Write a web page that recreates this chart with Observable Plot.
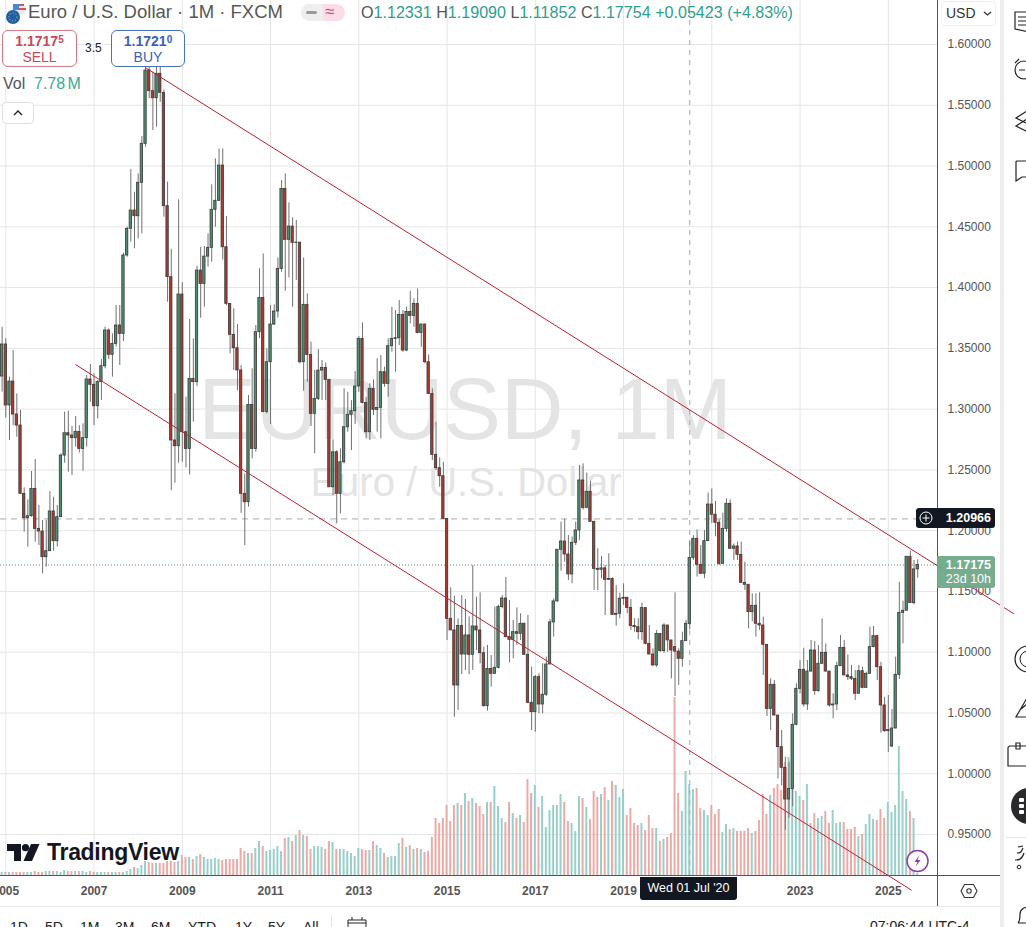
<!DOCTYPE html>
<html><head><meta charset="utf-8">
<script src="https://cdn.jsdelivr.net/npm/d3@7"></script>
<script src="https://cdn.jsdelivr.net/npm/@observablehq/plot@0.6"></script>
<style>
html,body{margin:0;padding:0;background:#fff;width:1026px;height:927px;overflow:hidden;font-family:"Liberation Sans",Arial,sans-serif}
#chart{position:absolute;left:0;top:0}
.o{position:absolute;white-space:nowrap;line-height:1}
.box{position:absolute;box-sizing:border-box;background:#fff;border-radius:6px;text-align:center}
.box b{display:block;font-size:14px;margin-top:2px;line-height:16px}
.box b sup{font-size:10px;vertical-align:3px;line-height:0}
.box span{display:block;font-size:14px;line-height:16px}
svg.i{position:absolute;overflow:visible}
</style></head><body>
<div id="chart"></div>
<script>
// Monthly EUR/USD candles, Dec 2004 to Sep 2025 (index -1 = Dec 2004, 0 = Jan 2005)
const closes = [1.3532,
1.3030,1.3227,1.2956,1.2865,1.2303,1.2103,1.2119,1.2344,1.2015,1.1993,1.1782,1.1831,
1.2158,1.1913,1.2111,1.2618,1.2802,1.2783,1.2761,1.2813,1.2673,1.2761,1.3244,1.3200,
1.3024,1.3222,1.3353,1.3647,1.3447,1.3537,1.3688,1.3619,1.4264,1.4483,1.4634,1.4587,
1.4862,1.5183,1.5786,1.5616,1.5558,1.5759,1.5602,1.4670,1.4086,1.2742,1.2695,1.3943,
1.2810,1.2673,1.3249,1.3222,1.4140,1.4030,1.4255,1.4327,1.4640,1.4714,1.5004,1.4332,
1.3866,1.3611,1.3501,1.3318,1.2303,1.2234,1.3035,1.2673,1.3633,1.3915,1.2977,1.3386,
1.3696,1.3803,1.4154,1.4812,1.4393,1.4502,1.4368,1.4370,1.3386,1.3858,1.3446,1.2961,
1.3084,1.3317,1.3339,1.3241,1.2357,1.2645,1.2303,1.2563,1.2851,1.2953,1.2983,1.3186,
1.3578,1.3051,1.2810,1.3167,1.2994,1.3010,1.3304,1.3208,1.3518,1.3578,1.3583,1.3775,
1.3482,1.3800,1.3766,1.3866,1.3627,1.3696,1.3386,1.3125,1.2623,1.2514,1.2448,1.2097,
1.1275,1.1179,1.0726,1.1215,1.0981,1.1138,1.0979,1.1212,1.1179,1.0992,1.0556,1.0863,
1.0822,1.0872,1.1371,1.1442,1.1124,1.1102,1.1165,1.1151,1.1234,1.0979,1.0584,1.0507,
1.0795,1.0570,1.0650,1.0899,1.1245,1.1418,1.1843,1.1911,1.1804,1.1640,1.1900,1.2002,
1.2413,1.2188,1.2320,1.2073,1.1686,1.1678,1.1690,1.1596,1.1603,1.1308,1.1316,1.1440,
1.1448,1.1365,1.1215,1.1206,1.1165,1.1363,1.1069,1.0981,1.0891,1.1151,1.1009,1.1220,
1.1097,1.1014,1.1005,1.0946,1.1091,1.1234,1.17754,1.1933,1.1719,1.1645,1.1914,1.2215,
1.2131,1.2065,1.1727,1.2015,1.2221,1.1851,1.1870,1.1801,1.1571,1.1555,1.1330,1.1382,
1.1234,1.1220,1.1061,1.0534,1.0732,1.0479,1.0219,1.0049,0.9788,0.9875,1.0403,1.0699,
1.0855,1.0570,1.0841,1.1014,1.0680,1.0905,1.0995,1.0841,1.0562,1.0570,1.0885,1.1036,
1.0809,1.0795,1.0781,1.0658,1.0844,1.0707,1.0822,1.1042,1.1132,1.0877,1.0562,1.0350,
1.0360,1.0372,1.0814,1.1324,1.1341,1.1785,1.1404,1.1681,1.17175];
const highs = [1.3674,
1.3578,1.3263,1.3482,1.3126,1.2989,1.2352,1.2254,1.2487,1.2585,1.2207,1.2084,1.2084,
1.2322,1.2275,1.2207,1.2632,1.2975,1.2983,1.2857,1.2939,1.2865,1.2879,1.3277,1.3367,
1.3290,1.3236,1.3408,1.3674,1.3660,1.3620,1.3853,1.3853,1.4283,1.4497,1.4971,1.4785,
1.4936,1.5243,1.5905,1.6018,1.5772,1.5815,1.6038,1.5625,1.4867,1.4315,1.3126,1.4722,
1.4040,1.3098,1.3737,1.3578,1.4176,1.4332,1.4338,1.4442,1.4845,1.5059,1.5141,1.5141,
1.4585,1.3866,1.3825,1.3696,1.3358,1.2467,1.3112,1.3331,1.3688,1.4154,1.4277,1.3496,
1.3852,1.3858,1.4244,1.4881,1.4936,1.4697,1.4574,1.4552,1.4368,1.4244,1.3948,1.3551,
1.3317,1.3490,1.3400,1.3380,1.3241,1.2747,1.2659,1.2673,1.3167,1.3139,1.3070,1.3309,
1.3597,1.3710,1.3098,1.3208,1.3241,1.3413,1.3441,1.3345,1.3578,1.3838,1.3811,1.3893,
1.3811,1.3838,1.3970,1.3907,1.3989,1.3700,1.3700,1.3446,1.3167,1.2892,1.2599,1.2563,
1.2098,1.1530,1.1461,1.1275,1.1467,1.1434,1.1289,1.1714,1.1453,1.1489,1.1042,1.1056,
1.0973,1.1371,1.1385,1.1467,1.1615,1.1426,1.1261,1.1365,1.1316,1.1239,1.1302,1.0877,
1.0809,1.0822,1.0905,1.0960,1.1269,1.1439,1.1843,1.2070,1.2092,1.1961,1.1947,1.2070,
1.2537,1.2550,1.2473,1.2408,1.2073,1.1851,1.1788,1.1714,1.1810,1.1612,1.1549,1.1486,
1.1563,1.1448,1.1434,1.1275,1.1275,1.1404,1.1365,1.1220,1.1028,1.1179,1.1151,1.1234,
1.1215,1.1097,1.1489,1.1028,1.1165,1.1261,1.19090,1.1960,1.2007,1.1878,1.2002,1.2309,
1.2344,1.2240,1.2089,1.2144,1.2262,1.2254,1.1890,1.1906,1.1906,1.1741,1.1555,1.1480,
1.1480,1.1489,1.1289,1.1061,1.0781,1.0767,1.0479,1.0356,1.0137,1.0094,1.0493,1.0740,
1.0932,1.1033,1.0932,1.1097,1.1088,1.1055,1.1275,1.1069,1.0841,1.0658,1.0918,1.1138,
1.1097,1.0978,1.0891,1.0850,1.0891,1.0877,1.0836,1.1206,1.1212,1.1138,1.0917,1.0630,
1.0644,1.0529,1.0959,1.1576,1.1420,1.1788,1.1832,1.1755,1.1760];
const lows = [1.3140,
1.2926,1.2742,1.2865,1.2769,1.2303,1.1988,1.1865,1.2111,1.1905,1.1878,1.1645,1.1700,
1.1837,1.1831,1.1864,1.2111,1.2555,1.2481,1.2454,1.2687,1.2638,1.2489,1.2687,1.3057,
1.2865,1.2920,1.3071,1.3331,1.3408,1.3263,1.3510,1.3359,1.3556,1.4250,1.4374,1.4319,
1.4401,1.4442,1.5155,1.5555,1.5292,1.5320,1.5525,1.4579,1.3880,1.2330,1.2391,1.2555,
1.2563,1.2517,1.2459,1.2893,1.3187,1.3748,1.3839,1.4168,1.4209,1.4497,1.4711,1.4228,
1.3850,1.3455,1.3318,1.3150,1.2143,1.1877,1.2193,1.2591,1.2645,1.3580,1.2969,1.2961,
1.2873,1.3688,1.3748,1.4126,1.3970,1.4080,1.3838,1.4058,1.3372,1.3147,1.3221,1.2857,
1.2632,1.3071,1.3071,1.3071,1.2357,1.2289,1.2056,1.2138,1.2549,1.2810,1.2659,1.2873,
1.3139,1.3043,1.2755,1.2741,1.2947,1.2810,1.2755,1.3180,1.3098,1.3468,1.3304,1.3523,
1.3468,1.3474,1.3701,1.3674,1.3619,1.3509,1.3372,1.3125,1.2577,1.2495,1.2357,1.2097,
1.1097,1.1179,1.0466,1.0521,1.0817,1.0850,1.0814,1.0850,1.1014,1.0905,1.0548,1.0515,
1.0713,1.0822,1.0863,1.1357,1.1119,1.0913,1.0946,1.1056,1.1097,1.0979,1.0576,1.0356,
1.0342,1.0493,1.0493,1.0636,1.0905,1.1124,1.1412,1.1667,1.1741,1.1590,1.1563,1.1878,
1.1919,1.2170,1.2180,1.2070,1.1508,1.1508,1.1604,1.1302,1.1590,1.1302,1.1215,1.1275,
1.1385,1.1316,1.1179,1.1165,1.1102,1.1097,1.1061,1.0981,1.0883,1.0877,1.1000,1.0991,
1.0999,1.0781,1.0636,1.0727,1.0877,1.1102,1.11852,1.1755,1.1618,1.1645,1.1604,1.1914,
1.2060,1.1950,1.1714,1.1727,1.1988,1.1851,1.1755,1.1755,1.1571,1.1508,1.1192,1.1250,
1.1124,1.1179,1.0809,1.0471,1.0356,1.0479,0.9958,0.9900,0.9535,0.9635,0.9730,1.0395,
1.0658,1.0548,1.0521,1.0836,1.0644,1.0671,1.0904,1.0836,1.0548,1.0452,1.0520,1.0885,
1.0809,1.0767,1.0767,1.0603,1.0658,1.0699,1.0713,1.0822,1.1036,1.0767,1.0334,1.0342,
1.0175,1.0216,1.0392,1.0776,1.1069,1.1343,1.1404,1.1390,1.1609];
// Opens follow the previous close, except where the picture shows a gap
const openDec2004 = 1.3268;
const openGaps = {182: 1.1042, 186: 1.12331, 241: 1.0224, 248: 1.1682};
// Volume in units of about 3.5 M
const volumes = [3,
3,3,3,3,3,3,3,3,4,3,3,4,
4,4,4,3,5,4,4,4,4,4,3,4,
3,3,3,3,3,3,3,3,3,4,6,8,
7,10,14,13,12,12,12,12,14,14,13,14,
20,18,18,16,19,21,18,16,16,17,16,15,
16,16,16,16,27,24,22,22,27,34,29,24,
25,26,29,24,37,38,34,40,45,40,39,26,
29,29,28,26,34,33,26,26,26,24,22,19,
27,26,25,25,34,30,27,22,18,19,19,32,
37,28,30,26,27,26,23,24,38,57,52,57,
70,54,70,72,70,82,74,77,72,69,61,73,
73,89,69,57,53,73,62,57,60,53,96,82,
90,68,79,48,65,70,70,81,73,54,52,44,
79,77,68,56,84,78,81,88,75,94,90,78,
86,60,67,52,50,52,45,60,47,47,34,36,
38,42,178,82,64,104,91,86,87,67,65,60,
70,61,66,43,51,46,47,44,44,44,47,42,
44,55,81,61,80,87,91,85,113,118,94,84,
79,75,91,52,62,57,59,64,52,65,52,53,
53,46,46,48,39,41,51,61,56,55,66,57,
73,63,70,129,84,76,64,57,2];
const priceTicks = [0.95,1.00,1.05,1.10,1.15,1.20,1.25,1.30,1.35,1.40,1.45,1.50,1.55,1.60];
const yearGrid = [2005,2007,2009,2011,2013,2015,2017,2019,2021,2023,2025];
const yearLabels = [2005,2007,2009,2011,2013,2015,2017,2019,2023,2025];
const upperChannel = [[38.07,1.5808],[274.05,1.1318]];
const lowerChannel = [[19.04,1.3365],[246.26,0.9043]];
const lastPrice = 1.17175, prevHigh = 1.20966, crossMonth = 186;

const table = closes.map((c,i)=>{
  const n = i-1;
  const open = i===0 ? openDec2004 : (openGaps[n] ?? closes[i-1]);
  return {n, open, close:c, high:highs[i], low:lows[i], vol:volumes[i], up:c>=open};
});
const xDomain = [-1.441,253.38], yDomain = [0.9163,1.6362];
const perUnit = (yDomain[1]-yDomain[0])/875;   // volume pane shares the frame
const yFloor = yDomain[0];
const font = '"Liberation Sans",Arial,sans-serif';
const grid = "#e5e5e5";
const chan = "#bb2230";

const plot = Plot.plot({
  width:1026,height:927,marginLeft:0,marginTop:0,marginRight:89,marginBottom:52,
  style:{fontFamily:font,background:"#fff",overflow:"visible"},
  x:{type:"linear",domain:xDomain},
  y:{type:"linear",domain:yDomain},
  marks:[
    Plot.gridX(yearGrid.map(y=>(y-2005)*12),{stroke:grid,strokeOpacity:1}),
    Plot.gridY(priceTicks,{stroke:grid,strokeOpacity:1}),
    Plot.text(["EURUSD, 1M"],{frameAnchor:"middle",dx:-4,dy:-27,fontSize:86.5,fill:"#e4e4e4"}),
    Plot.text(["Euro / U.S. Dollar"],{frameAnchor:"middle",dx:-3,dy:45,fontSize:40,fill:"#e4e4e4"}),
    Plot.rect(table,{x1:d=>d.n-0.27,x2:d=>d.n+0.27,y1:yFloor,y2:d=>yFloor+d.vol*perUnit,
      fill:d=>d.up?"#98cfc9":"#eaaaa6",clip:true}),
    Plot.ruleY([prevHigh],{stroke:"#aaaaaa",strokeDasharray:"6 5"}),
    Plot.ruleY([lastPrice],{stroke:"#4f9478",strokeDasharray:"1 2"}),
    Plot.ruleX([crossMonth],{stroke:"#a5a8ae",strokeDasharray:"5 5"}),
    Plot.ruleX(table,{x:"n",y1:"low",y2:"high",stroke:"#707070",strokeWidth:1,clip:true}),
    Plot.rect(table,{x1:d=>d.n-0.32,x2:d=>d.n+0.32,y1:"open",y2:"close",
      fill:d=>d.up?"#4b9070":"#ad3a2e",stroke:"#3a3a38",strokeWidth:0.8,clip:true}),
    Plot.ruleX([253.38],{stroke:"#555",y1:yDomain[0]-31/1215.4,y2:yDomain[1]}),
    Plot.axisY(priceTicks,{anchor:"right",tickSize:0,tickPadding:10,tickFormat:d3.format(".5f"),
      fontSize:12,fill:"#555",label:null}),
    Plot.axisX(yearLabels.map(y=>(y-2005)*12),{anchor:"bottom",tickSize:0,tickPadding:11,
      tickFormat:n=>String(2005+n/12),fontSize:12,fontWeight:"bold",fill:"#555",label:null}),
    Plot.line(upperChannel,{x:d=>d[0],y:d=>d[1],stroke:chan,strokeWidth:1}),
    Plot.line(lowerChannel,{x:d=>d[0],y:d=>d[1],stroke:chan,strokeWidth:1})
  ]
});
document.getElementById("chart").appendChild(plot);

// Page furniture around the chart
const H = `
<div class="o" style="left:0;top:875px;width:1000px;height:1px;background:#555"></div>
<div class="o" style="left:0;top:906px;width:1000px;height:1px;background:#e8e8e8"></div>
<div class="o" style="left:1000px;top:0;width:4px;height:927px;background:#ededed"></div>
<svg class="i" style="left:3px;top:2px" width="24" height="24" viewBox="0 0 24 24">
  <rect x="9" y="2" width="14" height="10" rx="5" fill="#e9e9ef"/><path d="M13 2h8v2h-8zM15 6h8v2h-8z" fill="#d9525a"/><rect x="10" y="2" width="6" height="6" fill="#4d86d8"/>
  <circle cx="10" cy="15" r="7" fill="#1e5fa8"/><circle cx="10" cy="15" r="4" fill="none" stroke="#e8d35c" stroke-width="1" stroke-dasharray="1 2"/></svg>
<div class="o" style="left:28px;top:3px;font-size:18.5px;color:#575757">Euro / U.S. Dollar · 1M · FXCM</div>
<div class="o" style="left:301px;top:4px;width:44px;height:17px;border-radius:9px;background:linear-gradient(90deg,#eeeeee 50%,#fbdde8 50%)"></div>
<div class="o" style="left:306px;top:11px;width:11px;height:3px;border-radius:2px;background:#999"></div>
<div class="o" style="left:325px;top:3px;font-size:17px;color:#d1477a">≈</div>
<div class="o" style="left:361px;top:4px;font-size:16.1px;color:#2f9e8f"><span style="color:#555">O</span>1.12331 <span style="color:#555">H</span>1.19090 <span style="color:#555">L</span>1.11852 <span style="color:#555">C</span>1.17754 +0.05423 (+4.83%)</div>
<div class="box" style="left:2px;top:30px;width:75px;height:37px;border:1px solid #d27a85;color:#c9485a"><b>1.1717<sup>5</sup></b><span>SELL</span></div>
<div class="o" style="left:85px;top:42px;font-size:12px;color:#222">3.5</div>
<div class="box" style="left:111px;top:30px;width:74px;height:37px;border:1px solid #4a72c4;color:#3a62b8"><b>1.1721<sup>0</sup></b><span>BUY</span></div>
<div class="o" style="left:3px;top:76px;font-size:16px;color:#555">Vol</div>
<div class="o" style="left:34px;top:76px;font-size:16px;color:#3ea899;word-spacing:-2px">7.78 M</div>
<div class="box" style="left:2px;top:102px;width:32px;height:22px;border:1px solid #e0e0e0;border-radius:4px"></div>
<svg class="i" style="left:12px;top:109px" width="12" height="8"><path d="M2 6L6 2L10 6" fill="none" stroke="#222" stroke-width="1.4"/></svg>
<svg class="i" style="left:7px;top:843px" width="34" height="20" viewBox="0 0 34 20"><path d="M0 1h14v17H7V8H0z" fill="#131722"/><circle cx="18.5" cy="4.7" r="3.6" fill="#131722"/><path d="M24 1h8.5L25 18h-8.5z" fill="#131722"/></svg>
<div class="o" style="left:47px;top:841px;font-size:23px;font-weight:bold;color:#131722;letter-spacing:-.3px">TradingView</div>
<div class="o" style="left:640px;top:877px;width:97px;height:23px;background:#131722;border-radius:0 0 3px 3px;color:#fff;font-size:12.5px;line-height:23px;text-align:center">Wed 01 Jul '20</div>
<div class="o" style="left:916px;top:508px;width:79px;height:20px;background:#131722;border-radius:3px;color:#fff;font-size:12.5px;font-weight:bold;line-height:20px;text-align:right;padding-right:4px;box-sizing:border-box">1.20966</div>
<svg class="i" style="left:919px;top:511px" width="14" height="14"><circle cx="7" cy="7" r="6" fill="none" stroke="#fff"/><path d="M7 3.5v7M3.5 7h7" stroke="#fff"/></svg>
<div class="o" style="left:937px;top:556px;width:58px;height:32px;background:#6fa98a;opacity:.95;border-radius:0 3px 3px 0;color:#fff;font-size:12.5px;line-height:14px;text-align:right;padding:2px 4px;box-sizing:border-box;font-weight:bold">1.17175<br><span style="font-weight:normal">23d 10h</span></div>
<div class="o" style="left:941px;top:1px;width:55px;height:25px;border:1px solid #f0f0f0;border-radius:4px;box-sizing:border-box;background:#fff"></div>
<div class="o" style="left:946px;top:6px;font-size:14px;color:#333">USD</div>
<svg class="i" style="left:983px;top:11px" width="9" height="6"><path d="M1 1l3.5 3L8 1" fill="none" stroke="#333" stroke-width="1.3"/></svg>
<svg class="i" style="left:907px;top:850px" width="22" height="22"><circle cx="10.5" cy="11" r="10.5" fill="#fff" stroke="#8e3aa8" stroke-width="1.5"/><path d="M12.5 5L7.5 12h3L8.5 17l5-7h-3z" fill="#8e3aa8"/></svg>
<svg class="i" style="left:960px;top:883px" width="18" height="16"><path d="M4.5 1.5h9L17 8l-3.5 6.5h-9L1 8z" fill="none" stroke="#333" stroke-width="1.1"/><circle cx="9" cy="8" r="2.2" fill="none" stroke="#333" stroke-width="1.1"/></svg>
<div class="o" style="left:870px;top:919px;font-size:14px;color:#222">07:06:44 UTC-4</div>
${[["1D",10],["5D",45],["1M",80],["3M",115],["6M",151],["YTD",188],["1Y",235],["5Y",268],["All",303]].map(([t,x])=>`<div class="o" style="left:${x}px;top:920px;font-size:14px;color:#222">${t}</div>`).join("")}
<div class="o" style="left:331px;top:915px;width:1px;height:12px;background:#e4e4e4"></div>
<svg class="i" style="left:347px;top:917px" width="20" height="10"><path d="M1 10V3h18v7M1 6h18M5 0v3M15 0v3" fill="none" stroke="#222"/></svg>
<svg class="i" style="left:1014px;top:10px" width="14" height="22"><path d="M1 2h14v20l-14-3zM4 7h10M4 11h10M4 15h10" fill="none" stroke="#222" stroke-width="1.2"/></svg>
<svg class="i" style="left:1014px;top:58px" width="14" height="24"><path d="M5 1L1 5M1 12a9 9 0 1 0 18 0a9 9 0 1 0-18 0M5 12h6" fill="none" stroke="#222" stroke-width="1.2"/></svg>
<svg class="i" style="left:1015px;top:110px" width="12" height="22"><path d="M12 1L1 8l12 6M12 9L1 16l12 6" fill="none" stroke="#222" stroke-width="1.2"/></svg>
<svg class="i" style="left:1015px;top:160px" width="12" height="22"><path d="M14 1H2a1 1 0 0 0-1 1v19l6-4h8" fill="none" stroke="#222" stroke-width="1.2"/></svg>
<svg class="i" style="left:1014px;top:645px" width="14" height="28"><circle cx="14" cy="14" r="13" fill="none" stroke="#222" stroke-width="1.2"/><circle cx="14" cy="14" r="8" fill="none" stroke="#222"/></svg>
<svg class="i" style="left:1015px;top:697px" width="12" height="24"><path d="M12 1L1 20h12M12 7L6 12" fill="none" stroke="#222" stroke-width="1.2"/></svg>
<svg class="i" style="left:1007px;top:742px" width="20" height="26"><path d="M22 4H3a2 2 0 0 0-2 2v18h21M9 1v6h4V1z" fill="none" stroke="#222" stroke-width="1.2"/></svg>
<svg class="i" style="left:1011px;top:788px" width="16" height="36"><circle cx="18" cy="18" r="18" fill="#2a2a2e"/><rect x="8" y="10" width="5" height="4" rx="1" fill="#fff"/><rect x="8" y="16" width="5" height="4" rx="1" fill="#fff"/><rect x="8" y="22" width="5" height="4" rx="1" fill="#fff"/></svg>
<div class="o" style="left:1006px;top:837px;width:20px;height:1px;background:#e4e4e4"></div>
<svg class="i" style="left:1014px;top:845px" width="14" height="24"><circle cx="5" cy="22" r="1.8" fill="none" stroke="#222"/><path d="M1 15c3 0 7 0 9-7M3 8c4 0 4-1 6-5M4 2l5-1" fill="none" stroke="#222" stroke-width="1.2"/></svg>
<svg class="i" style="left:1018px;top:897px" width="8" height="30"><path d="M0 26c2-2 2-5 2-9a7 7 0 0 1 10-6M0 26h10" fill="none" stroke="#222" stroke-width="1.2"/></svg>
`;
const over = document.createElement("div");
over.innerHTML = H;
document.body.appendChild(over);
</script>
</body></html>
